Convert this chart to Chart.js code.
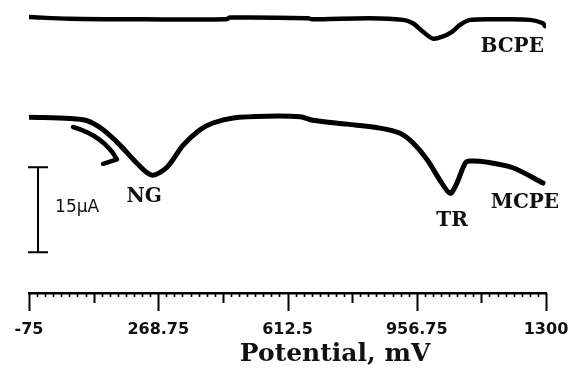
<!DOCTYPE html>
<html>
<head>
<meta charset="utf-8">
<script src="https://cdn.jsdelivr.net/npm/chart.js@4/dist/chart.umd.min.js"></script>
<style>
  html, body { margin: 0; padding: 0; background: #fff; }
  canvas { display: block; }
</style>
</head>
<body>
<canvas id="cvChart" width="568" height="370"></canvas>
<script>
// Potential axis (mV)
const xMin = -75;
const xMax = 1300;
const tickValues = [-75, 268.75, 612.5, 956.25, 1300];
const tickLabels = ['-75', '268.75', '612.5', '956.75', '1300'];

// Current (µA, arbitrary offset)
const bcpeX = [-75, 34, 233, 449, 460, 667, 678, 832, 920, 946, 973, 999, 1023, 1050, 1071, 1098, 1186, 1257, 1292, 1297];
const bcpeY = [48.7, 48.4, 48.3, 48.3, 48.6, 48.5, 48.3, 48.5, 48.2, 47.6, 46.1, 44.9, 45.2, 46.1, 47.3, 48.2, 48.3, 48.2, 47.6, 47.1];

const mcpeX = [-72, 34, 79, 122, 167, 212, 252, 292, 335, 380, 414, 468, 558, 646, 680, 771, 859, 912, 946, 984, 1018, 1045, 1063, 1085, 1098, 1143, 1212, 1292];
const mcpeY = [31.0, 30.8, 30.4, 28.8, 26.1, 22.9, 20.8, 22.2, 26.1, 28.8, 30.0, 30.9, 31.2, 31.1, 30.5, 29.8, 29.1, 28.2, 26.5, 23.5, 19.9, 17.6, 19.4, 22.9, 23.3, 23.1, 22.1, 19.4];

// 15 µA scale bar
const barX = -51;
const barFrom = 7.2;
const barSize = 15;

const toPoints = (xs, ys) => xs.map((x, i) => ({ x: x, y: ys[i] }));

// draws the minor/major tick marks, scale bar, arrow and the labels
const decorations = {
  id: 'decorations',
  afterDraw(chart) {
    const ctx = chart.ctx;
    const xs = chart.scales.x;
    const ys = chart.scales.y;
    const px = v => xs.getPixelForValue(v);
    const py = v => ys.getPixelForValue(v);
    const axisY = chart.chartArea.bottom;

    ctx.save();
    ctx.strokeStyle = '#000';
    ctx.lineCap = 'butt';

    // ticks: 8 majors, 8 minors in each
    const step = (xMax - xMin) / 64;
    for (let i = 0; i <= 64; i++) {
      const x = Math.round(px(xMin + i * step)) + 0.5;
      let len = 4, w = 1.6;
      if (i % 16 === 0) { len = 18; w = 2; }
      else if (i % 8 === 0) { len = 10; w = 2; }
      ctx.lineWidth = w;
      ctx.beginPath();
      ctx.moveTo(x, axisY);
      ctx.lineTo(x, axisY + len);
      ctx.stroke();
    }

    // scale bar
    const bx = px(barX);
    const bTop = py(barFrom + barSize);
    const bBot = py(barFrom);
    ctx.lineWidth = 2;
    ctx.beginPath();
    ctx.moveTo(bx, bTop); ctx.lineTo(bx, bBot);
    ctx.moveTo(bx - 10, bTop); ctx.lineTo(bx + 10, bTop);
    ctx.moveTo(bx - 10, bBot); ctx.lineTo(bx + 10, bBot);
    ctx.stroke();

    // curved arrow
    ctx.lineWidth = 4.5;
    ctx.lineCap = 'round';
    ctx.lineJoin = 'round';
    ctx.beginPath();
    ctx.moveTo(px(42), py(29.3));
    ctx.quadraticCurveTo(px(124), py(27.7), px(159), py(23.6));
    ctx.lineTo(px(122), py(22.8));
    ctx.stroke();

    // labels
    ctx.fillStyle = '#111';
    ctx.textAlign = 'center';
    ctx.textBaseline = 'middle';
    ctx.font = 'bold 20px "DejaVu Serif"';
    ctx.fillText('BCPE', px(1210), py(43.5));
    ctx.fillText('NG', px(231), py(16.9));
    ctx.fillText('TR', px(1050), py(12.7));
    ctx.fillText('MCPE', px(1244), py(15.9));

    ctx.font = '17px "DejaVu Sans"';
    ctx.fillText('15\u03BCA', px(53), py(15));

    ctx.font = 'bold 25px "DejaVu Serif"';
    ctx.textBaseline = 'alphabetic';
    ctx.fillText('Potential, mV', px(739), 361);
    ctx.restore();
  }
};

new Chart(document.getElementById('cvChart'), {
  type: 'line',
  data: {
    datasets: [
      {
        label: 'BCPE',
        data: toPoints(bcpeX, bcpeY),
        borderColor: '#000',
        borderWidth: 4.5,
        pointRadius: 0,
        tension: 0.3,
        borderCapStyle: 'round',
        borderJoinStyle: 'round'
      },
      {
        label: 'MCPE',
        data: toPoints(mcpeX, mcpeY),
        borderColor: '#000',
        borderWidth: 5,
        pointRadius: 0,
        tension: 0.3,
        borderCapStyle: 'round',
        borderJoinStyle: 'round'
      }
    ]
  },
  options: {
    responsive: false,
    animation: false,
    devicePixelRatio: 1,
    layout: { padding: { left: 29, right: 22, top: 4, bottom: 0 } },
    plugins: {
      legend: { display: false },
      tooltip: { enabled: false }
    },
    scales: {
      x: {
        type: 'linear',
        min: xMin,
        max: xMax,
        grid: { display: false, drawTicks: false },
        border: { display: true, color: '#000', width: 2.5 },
        afterBuildTicks: scale => {
          scale.ticks = tickValues.map(v => ({ value: v }));
        },
        afterFit: scale => {
          scale.height = 77;
          scale.paddingLeft = 0;
          scale.paddingRight = 0;
        },
        ticks: {
          autoSkip: false,
          maxRotation: 0,
          padding: 27,
          color: '#111',
          font: { family: 'DejaVu Sans', size: 16, weight: 'bold' },
          callback: (value, index) => tickLabels[index]
        }
      },
      y: {
        display: false,
        min: 0,
        max: 51
      }
    }
  },
  plugins: [decorations]
});
</script>
</body>
</html>
